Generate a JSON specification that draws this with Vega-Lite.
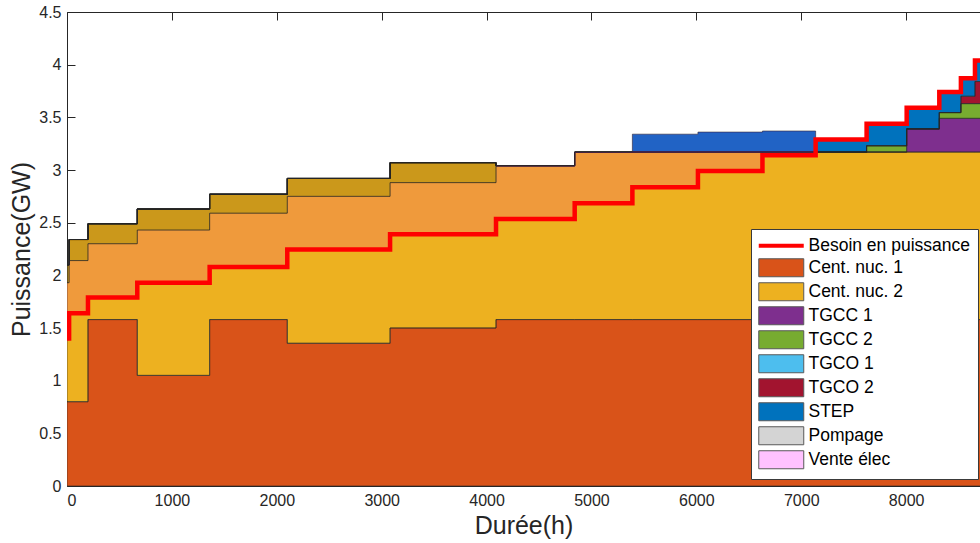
{
  "$schema": "https://vega.github.io/schema/vega-lite/v6.json",
  "width": 913,
  "height": 474,
  "autosize": {"type": "none"},
  "padding": {"left": 67, "top": 12, "right": 0, "bottom": 57},
  "background": "white",
  "config": {
    "view": {"stroke": null},
    "font": "Liberation Sans",
    "axis": {
      "grid": false,
      "domainColor": "#262626",
      "tickColor": "#262626",
      "labelColor": "#262626",
      "titleColor": "#262626",
      "labelFont": "Liberation Sans",
      "titleFont": "Liberation Sans",
      "titleFontWeight": "normal",
      "labelFontSize": 16,
      "titleFontSize": 25,
      "tickSize": -8,
      "labelPadding": 14,
      "domainWidth": 1,
      "tickWidth": 1
    }
  },
  "datasets": {
    "prod": [
      {"h": 0, "n1": 0.80, "n2": 1.30, "t1": 0, "t2": 0, "t4": 0, "t5": 0},
      {"h": 20, "n1": 0.80, "n2": 1.54, "t1": 0, "t2": 0, "t4": 0, "t5": 0},
      {"h": 200, "n1": 1.58, "n2": 0.91, "t1": 0, "t2": 0, "t4": 0, "t5": 0},
      {"h": 670, "n1": 1.05, "n2": 1.58, "t1": 0, "t2": 0, "t4": 0, "t5": 0},
      {"h": 1360, "n1": 1.58, "n2": 1.19, "t1": 0, "t2": 0, "t4": 0, "t5": 0},
      {"h": 2100, "n1": 1.355, "n2": 1.565, "t1": 0, "t2": 0, "t4": 0, "t5": 0},
      {"h": 3080, "n1": 1.50, "n2": 1.57, "t1": 0, "t2": 0, "t4": 0, "t5": 0},
      {"h": 4090, "n1": 1.58, "n2": 1.46, "t1": 0, "t2": 0, "t4": 0, "t5": 0},
      {"h": 4840, "n1": 1.58, "n2": 1.59, "t1": 0, "t2": 0, "t4": 0, "t5": 0},
      {"h": 5390, "n1": 1.58, "n2": 1.59, "t1": 0, "t2": 0, "t4": 0, "t5": 0.17},
      {"h": 6015, "n1": 1.58, "n2": 1.59, "t1": 0, "t2": 0, "t4": 0, "t5": 0.19},
      {"h": 6630, "n1": 1.58, "n2": 1.59, "t1": 0, "t2": 0, "t4": 0, "t5": 0.20},
      {"h": 7137, "n1": 1.58, "n2": 1.59, "t1": 0, "t2": 0, "t4": 0, "t5": 0.12},
      {"h": 7623, "n1": 1.58, "n2": 1.59, "t1": 0, "t2": 0.06, "t4": 0, "t5": 0.21},
      {"h": 8005, "n1": 1.58, "n2": 1.59, "t1": 0.22, "t2": 0, "t4": 0, "t5": 0.20},
      {"h": 8316, "n1": 1.58, "n2": 1.59, "t1": 0.32, "t2": 0.055, "t4": 0, "t5": 0.195},
      {"h": 8522, "n1": 1.58, "n2": 1.59, "t1": 0.32, "t2": 0.14, "t4": 0.07, "t5": 0.17},
      {"h": 8656, "n1": 1.58, "n2": 1.59, "t1": 0.32, "t2": 0.14, "t4": 0.21, "t5": 0.20},
      {"h": 8760, "n1": 1.58, "n2": 1.59, "t1": 0.32, "t2": 0.14, "t4": 0.21, "t5": 0.20}
    ],
    "besoin": [
      {"h": 0, "d": 1.40}, {"h": 20, "d": 1.64}, {"h": 200, "d": 1.79}, {"h": 670, "d": 1.93},
      {"h": 1360, "d": 2.08}, {"h": 2100, "d": 2.245}, {"h": 3080, "d": 2.39}, {"h": 4090, "d": 2.535},
      {"h": 4840, "d": 2.685}, {"h": 5390, "d": 2.836}, {"h": 6015, "d": 2.99}, {"h": 6630, "d": 3.14},
      {"h": 7137, "d": 3.29}, {"h": 7623, "d": 3.44}, {"h": 8005, "d": 3.59}, {"h": 8316, "d": 3.74},
      {"h": 8522, "d": 3.87}, {"h": 8656, "d": 4.04}, {"h": 8760, "d": 4.04}
    ],
    "pomp": [
      {"h": 0, "lo": 1.93, "hi": 2.10}, {"h": 20, "lo": 2.14, "hi": 2.34}, {"h": 200, "lo": 2.30, "hi": 2.49},
      {"h": 670, "lo": 2.43, "hi": 2.63}, {"h": 1360, "lo": 2.59, "hi": 2.77}, {"h": 2100, "lo": 2.75, "hi": 2.92},
      {"h": 3080, "lo": 2.88, "hi": 3.07}, {"h": 4090, "lo": 2.88, "hi": 3.07}
    ],
    "vente": [
      {"h": 0, "lo": 1.40, "hi": 1.93}, {"h": 20, "lo": 1.64, "hi": 2.14}, {"h": 200, "lo": 1.79, "hi": 2.30},
      {"h": 670, "lo": 1.93, "hi": 2.43}, {"h": 1360, "lo": 2.08, "hi": 2.59}, {"h": 2100, "lo": 2.245, "hi": 2.75},
      {"h": 3080, "lo": 2.39, "hi": 2.88}, {"h": 4090, "lo": 2.535, "hi": 3.04}, {"h": 4840, "lo": 2.685, "hi": 3.17},
      {"h": 5390, "lo": 2.836, "hi": 3.34}, {"h": 6015, "lo": 2.99, "hi": 3.36}, {"h": 6630, "lo": 3.14, "hi": 3.37},
      {"h": 7137, "lo": 3.14, "hi": 3.37}
    ]
  },
  "layer": [
    {
      "data": {"name": "prod"},
      "transform": [{"fold": ["n1", "n2", "t1", "t2", "t4", "t5"], "as": ["key", "v"]}],
      "mark": {"type": "area", "interpolate": "step-after", "clip": true},
      "encoding": {
        "x": {
          "field": "h", "type": "quantitative",
          "scale": {"domain": [0, 8704], "nice": false, "zero": false},
          "axis": {"orient": "bottom", "values": [0, 1000, 2000, 3000, 4000, 5000, 6000, 7000, 8000], "format": "d", "title": "Durée(h)", "titlePadding": 5}
        },
        "y": {
          "field": "v", "type": "quantitative", "stack": "zero",
          "scale": {"domain": [0, 4.5], "nice": false},
          "axis": {"values": [0, 0.5, 1, 1.5, 2, 2.5, 3, 3.5, 4, 4.5], "format": "~g", "title": "Puissance(GW)", "titlePadding": 4}
        },
        "color": {
          "field": "key", "type": "nominal",
          "scale": {
            "domain": ["besoin", "n1", "n2", "t1", "t2", "t3", "t4", "t5", "pomp", "vente"],
            "range": ["#FF0000", "#D95319", "#EDB120", "#7E2F8E", "#77AC30", "#4DBEEE", "#A2142F", "#0072BD", "#d4d4d4", "#ffc2ff"]
          },
          "legend": {
            "title": null,
            "orient": "none",
            "legendX": 684,
            "legendY": 217,
            "fillColor": "white",
            "strokeColor": "#3a3a3a",
            "padding": 8,
            "symbolType": {"expr": "datum.value === 'besoin' ? 'M-1,0H4' : 'M-1,-1H4V1H-1Z'"},
            "symbolSize": 324,
            "symbolStrokeWidth": {"expr": "datum.value === 'besoin' ? 4 : 1"},
            "symbolStrokeColor": {"expr": "datum.value === 'besoin' ? '#FF0000' : '#595959'"},
            "labelOffset": 32,
            "labelFont": "Liberation Sans",
            "labelFontSize": 17.5,
            "labelColor": "#000000",
            "labelLimit": 300,
            "rowPadding": 1,
            "labelExpr": "datum.value === 'besoin' ? 'Besoin en puissance' : datum.value === 'n1' ? 'Cent. nuc. 1' : datum.value === 'n2' ? 'Cent. nuc. 2' : datum.value === 't1' ? 'TGCC 1' : datum.value === 't2' ? 'TGCC 2' : datum.value === 't3' ? 'TGCO 1' : datum.value === 't4' ? 'TGCO 2' : datum.value === 't5' ? 'STEP' : datum.value === 'pomp' ? 'Pompage' : 'Vente élec'"
          }
        },
        "order": {"field": "key", "type": "ordinal", "sort": "ascending"}
      }
    },
    {
      "data": {"name": "prod"},
      "transform": [{"fold": ["n1", "n2", "t1", "t2", "t4", "t5"], "as": ["key", "v"]}],
      "mark": {"type": "area", "interpolate": "step-after", "fill": "transparent", "stroke": "#262626", "strokeWidth": 0.6, "clip": true},
      "encoding": {
        "x": {"field": "h", "type": "quantitative", "axis": null},
        "y": {"field": "v", "type": "quantitative", "stack": "zero", "axis": {"values": [0, 0.5, 1, 1.5, 2, 2.5, 3, 3.5, 4, 4.5], "format": "~g", "title": "Puissance(GW)", "titlePadding": 4}},
        "detail": {"field": "key", "type": "nominal"},
        "order": {"field": "key", "type": "ordinal", "sort": "ascending"}
      }
    },
    {
      "data": {"name": "vente"},
      "mark": {"type": "area", "interpolate": "step-after", "fill": "#FF00FF", "fillOpacity": 0.13, "clip": true},
      "encoding": {
        "x": {"field": "h", "type": "quantitative", "axis": null},
        "y": {"field": "lo", "type": "quantitative", "axis": {"values": [0, 0.5, 1, 1.5, 2, 2.5, 3, 3.5, 4, 4.5], "format": "~g", "title": "Puissance(GW)", "titlePadding": 4}},
        "y2": {"field": "hi"}
      }
    },
    {
      "data": {"name": "pomp"},
      "mark": {"type": "area", "interpolate": "step-after", "fill": "#000000", "fillOpacity": 0.14, "stroke": "#262626", "strokeWidth": 0.8, "clip": true},
      "encoding": {
        "x": {"field": "h", "type": "quantitative", "axis": null},
        "y": {"field": "lo", "type": "quantitative", "axis": {"values": [0, 0.5, 1, 1.5, 2, 2.5, 3, 3.5, 4, 4.5], "format": "~g", "title": "Puissance(GW)", "titlePadding": 4}},
        "y2": {"field": "hi"}
      }
    },
    {
      "data": {"name": "besoin"},
      "mark": {"type": "line", "interpolate": "step-after", "stroke": "#FF0000", "strokeWidth": 4.5, "clip": true},
      "encoding": {
        "x": {
          "field": "h", "type": "quantitative",
          "axis": {"orient": "top", "values": [0, 1000, 2000, 3000, 4000, 5000, 6000, 7000, 8000], "labels": false, "title": null}
        },
        "y": {"field": "d", "type": "quantitative", "axis": {"values": [0, 0.5, 1, 1.5, 2, 2.5, 3, 3.5, 4, 4.5], "format": "~g", "title": "Puissance(GW)", "titlePadding": 4}}
      }
    }
  ],
  "resolve": {"axis": {"x": "independent"}}
}
